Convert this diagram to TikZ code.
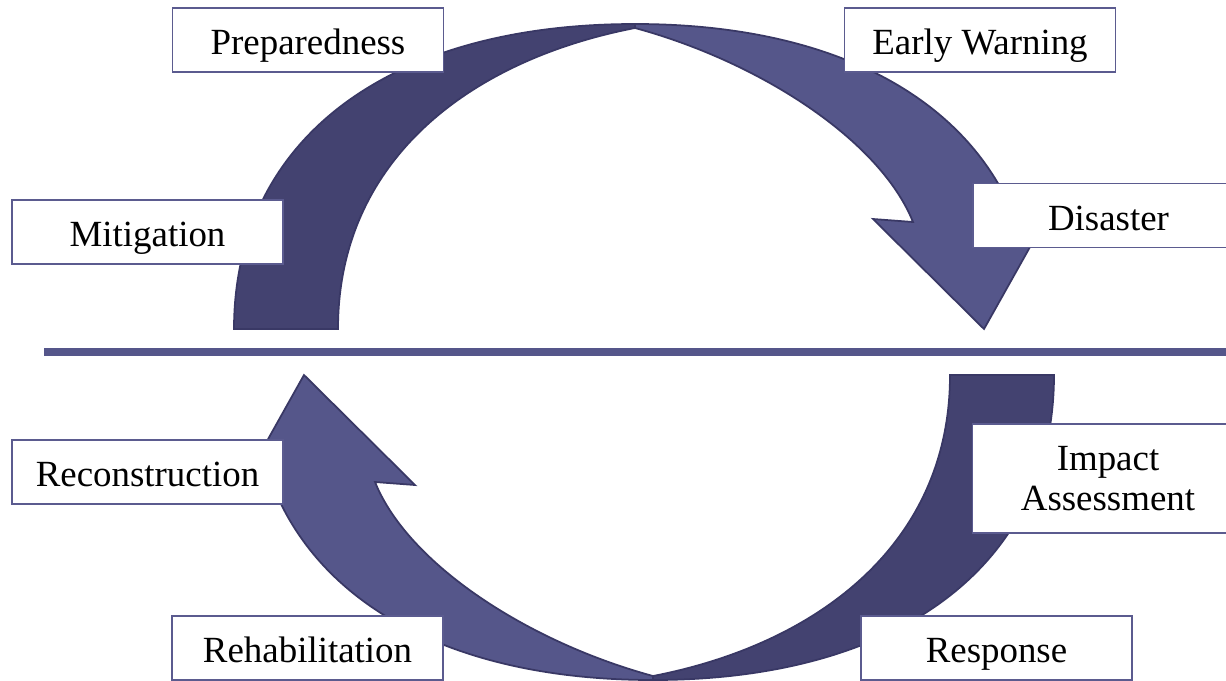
\documentclass[tikz,border=0pt]{standalone}
\usepackage{fontspec}
\setmainfont{Liberation Serif}
\definecolor{darkarc}{HTML}{434270}
\definecolor{lightarc}{HTML}{55568A}
\definecolor{arcline}{HTML}{393865}
\definecolor{boxline}{HTML}{5B5B8F}
\begin{document}
\begin{tikzpicture}[x=0.02cm,y=-0.02cm,
  boxbase/.style={draw=boxline,line width=1pt,fill=white,inner sep=0pt,
    font=\fontsize{21}{24}\selectfont,minimum width=5.42cm},
  lbl/.style={boxbase,text height=16.5pt,text depth=0pt,minimum height=1.28cm},
  darkpart/.style={fill=darkarc,draw=arcline,line width=1pt,line join=miter},
  lightpart/.style={fill=lightarc,draw=arcline,line width=1pt,line join=miter}]
\useasboundingbox (0,0) rectangle (1226,680);
\fill[white] (0,0) rectangle (1226,680);

% upper cycle half
\draw[darkpart] (234,329) .. controls (234,141) and (386,24) .. (635,24)
  -- (635,28) .. controls (470,60) and (338,160) .. (338,329) -- cycle;
\draw[lightpart] (635,24) .. controls (833,24) and (969.6,97.9) .. (1017,223)
  -- (1044,222) -- (984,329) -- (873,219) -- (913,222)
  .. controls (880,140) and (760,62) .. (635,28) -- cycle;

% lower cycle half (point symmetric)
\begin{scope}[rotate around={180:(644,352)}]
\draw[darkpart] (234,329) .. controls (234,141) and (386,24) .. (635,24)
  -- (635,28) .. controls (470,60) and (338,160) .. (338,329) -- cycle;
\draw[lightpart] (635,24) .. controls (833,24) and (969.6,97.9) .. (1017,223)
  -- (1044,222) -- (984,329) -- (873,219) -- (913,222)
  .. controls (880,140) and (760,62) .. (635,28) -- cycle;
\end{scope}

% divider
\coordinate (divL) at (44,352);
\coordinate (divR) at (1226,352);
\draw[lightarc,line width=4.6pt] (divL) -- (divR);

% labels
\node[lbl] (prep) at (308,40) {Preparedness};
\node[lbl] (early) at (980,40) {Early Warning};
\node[lbl] (mitig) at (147.5,232) {Mitigation};
\node[lbl] (disaster) at (1108.5,215.5) {Disaster};
\node[lbl] (recon) at (147.5,472) {Reconstruction};
\node[boxbase,align=center,minimum height=2.18cm] (impact) at (1108,478.5) {\raisebox{-2pt}{Impact}\\[-1pt]\raisebox{-2pt}{Assessment}};
\node[lbl] (rehab) at (307.5,648) {Rehabilitation};
\node[lbl] (response) at (996.5,648) {Response};
\end{tikzpicture}
\end{document}
